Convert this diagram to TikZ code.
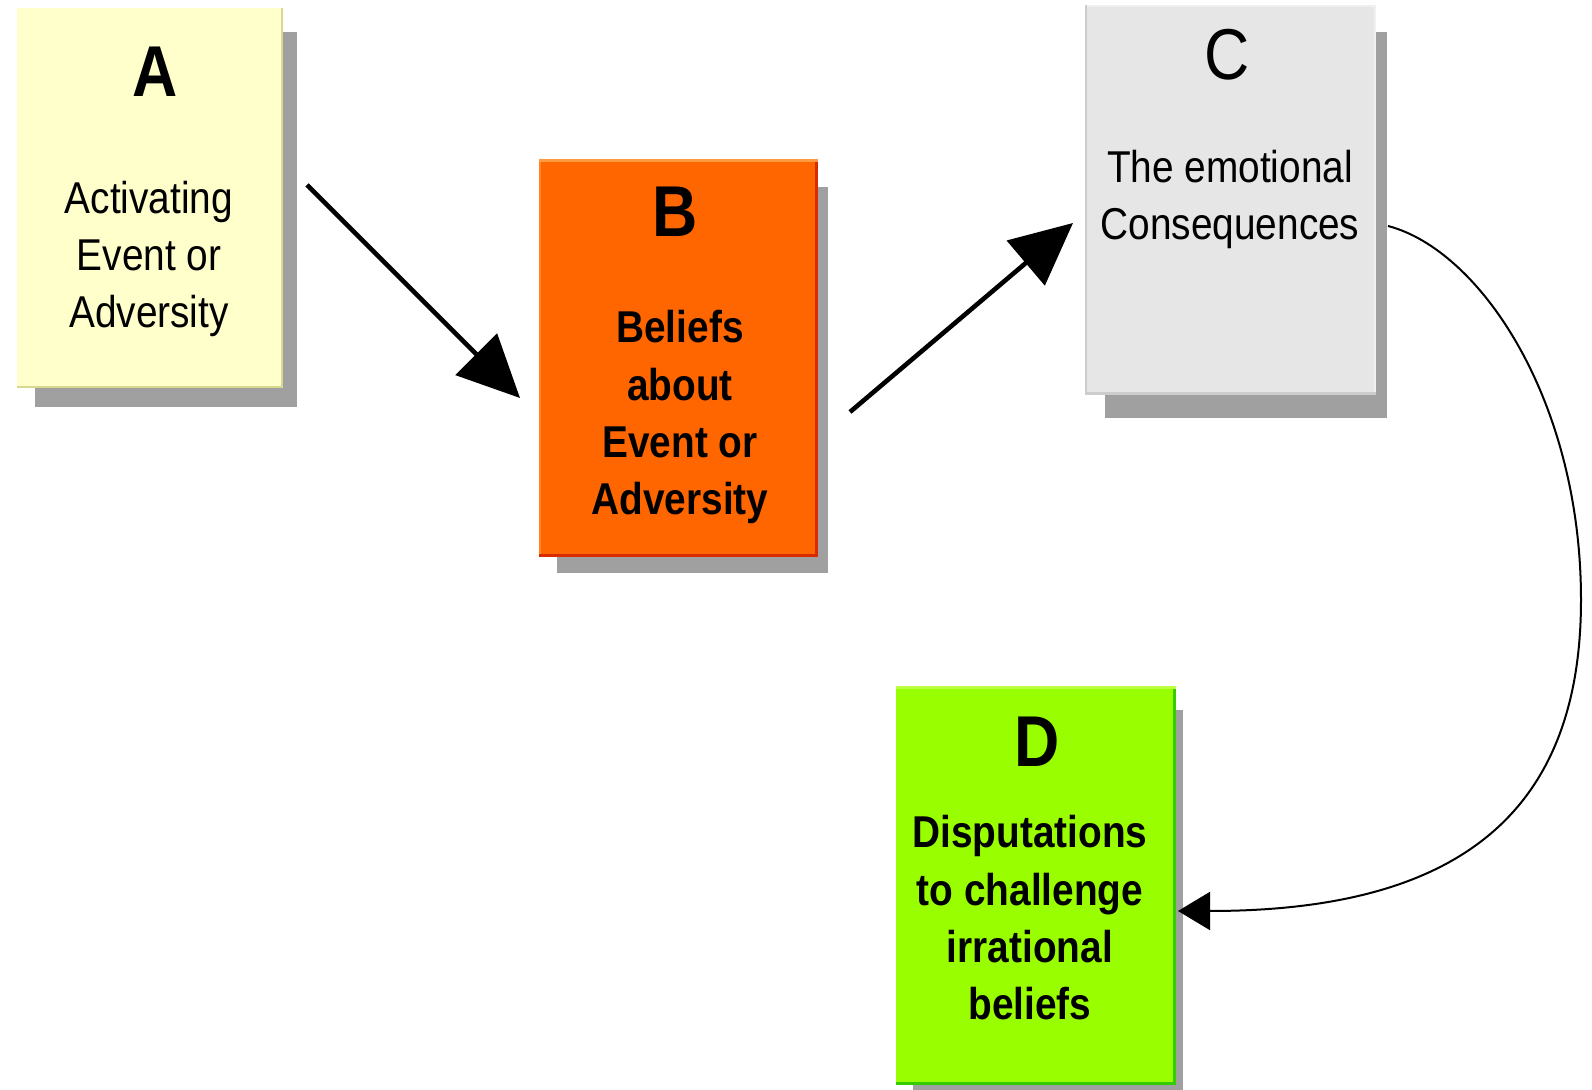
\documentclass[tikz,border=0pt]{standalone}
\usepackage{fontspec}
\setmainfont{Liberation Sans}[FakeStretch=0.87]
\usetikzlibrary{arrows.meta}

\definecolor{paleyellow}{HTML}{FFFFCC}
\definecolor{yellowedge}{HTML}{D8D890}
\definecolor{orangefill}{HTML}{FF6600}
\definecolor{orangelight}{HTML}{FF9A40}
\definecolor{orangeside}{HTML}{FF8426}
\definecolor{orangedark}{HTML}{D92B00}
\definecolor{greyfill}{HTML}{E6E6E6}
\definecolor{greylight}{HTML}{F0F0F0}
\definecolor{greyedge}{HTML}{CDCDCD}
\definecolor{limefill}{HTML}{99FF00}
\definecolor{limelight}{HTML}{BBFF40}
\definecolor{limedark}{HTML}{33CC00}
\definecolor{shadowgrey}{HTML}{A0A0A0}

\begin{document}
\begin{tikzpicture}[x=0.5pt,y=-0.5pt,
  card/.style={rectangle, inner sep=0pt, outer sep=0pt},
  letter/.style={font=\fontsize{36}{36}\selectfont\bfseries, anchor=base, inner sep=0pt},
  plainletter/.style={font=\fontsize{36}{36}\selectfont, anchor=base, inner sep=0pt},
  % multi-line texts are placed by the baseline of their last line
  bodytext/.style={font=\fontsize{22.3}{28.7}\selectfont, align=center, anchor=base, inner sep=0pt},
  boldtext/.style={bodytext, font=\fontsize{22.3}{28.7}\selectfont\bfseries},
  bigarrow/.style={-{Triangle[length=31pt,width=29pt]}, line width=2.3pt},
  looparrow/.style={-{Triangle[length=16pt,width=19pt]}, line width=1pt}]

\fill[white] (0,0) rectangle (1592,1090);
\useasboundingbox (0,0) rectangle (1592,1090);

% ---- cards ----
\node[card, minimum width=133pt, minimum height=190pt] (A) at (150,198) {};
\node[card, minimum width=139.5pt, minimum height=199pt] (B) at (678.5,358) {};
\node[card, minimum width=145.5pt, minimum height=195pt] (C) at (1230.5,200) {};
\node[card, minimum width=140pt, minimum height=199.5pt] (D) at (1036,885.5) {};

% drop shadows behind the cards
\fill[shadowgrey] ([shift={(9pt,-12pt)}]A.north west) rectangle ([shift={(7pt,-9.5pt)}]A.south east);
\fill[shadowgrey] ([shift={(9pt,-14pt)}]B.north west) rectangle ([shift={(5pt,-8pt)}]B.south east);
\fill[shadowgrey] ([shift={(10pt,-13.5pt)}]C.north west) rectangle ([shift={(5.5pt,-11.5pt)}]C.south east);
\fill[shadowgrey] ([shift={(8.5pt,-12pt)}]D.north west) rectangle ([shift={(3.5pt,-5pt)}]D.south east);

% card faces
\fill[paleyellow] (A.north west) rectangle (A.south east);
\fill[orangefill] (B.north west) rectangle (B.south east);
\fill[greyfill] (C.north west) rectangle (C.south east);
\fill[limefill] (D.north west) rectangle (D.south east);

% bevelled card edges
\draw[yellowedge, line width=1.2pt] ([shift={(0,0.6pt)}]A.south west) -- ([shift={(-0.6pt,0.6pt)}]A.south east) -- ([shift={(-0.6pt,0)}]A.north east);

\draw[orangelight, line width=1.5pt] ([shift={(0,-0.75pt)}]B.north west) -- ([shift={(0,-0.75pt)}]B.north east);
\draw[orangeside, line width=1.2pt] ([shift={(0.6pt,-1.5pt)}]B.north west) -- ([shift={(0.6pt,0)}]B.south west);
\draw[orangedark, line width=1.5pt] ([shift={(-0.75pt,-1.5pt)}]B.north east) -- ([shift={(-0.75pt,0)}]B.south east);
\draw[orangedark, line width=1.5pt] ([shift={(0,0.75pt)}]B.south west) -- ([shift={(0,0.75pt)}]B.south east);

\draw[greylight, line width=1.2pt] ([shift={(0,-0.6pt)}]C.north west) -- ([shift={(0,-0.6pt)}]C.north east);
\draw[greyedge, line width=1pt] ([shift={(0.5pt,0)}]C.north west) -- ([shift={(0.5pt,0)}]C.south west);
\draw[greylight, line width=1.2pt] ([shift={(-0.6pt,0)}]C.north east) -- ([shift={(-0.6pt,0)}]C.south east);
\draw[greyedge, line width=1.5pt] ([shift={(0,0.75pt)}]C.south west) -- ([shift={(0,0.75pt)}]C.south east);

\draw[limelight, line width=1.5pt] ([shift={(0,-0.75pt)}]D.north west) -- ([shift={(0,-0.75pt)}]D.north east);
\draw[limedark, line width=1.5pt] ([shift={(-0.75pt,-1.5pt)}]D.north east) -- ([shift={(-0.75pt,0)}]D.south east);
\draw[limedark, line width=1.5pt] ([shift={(0,0.75pt)}]D.south west) -- ([shift={(0,0.75pt)}]D.south east);

% ---- card texts ----
\node[letter] (Aletter) at (155,97) {A};
\node[bodytext] (Atext) at (149,328) {Activating\\Event or\\Adversity};

\node[letter] (Bletter) at (675,237) {B};
\node[boldtext] (Btext) at (680,515) {Beliefs\\about\\Event or\\Adversity};

\node[plainletter] (Cletter) at (1227,80) {C};
\node[bodytext] (Ctext) at (1230,240) {The emotional\\Consequences};

\node[letter] (Dletter) at (1037,767) {D};
\node[boldtext] (Dtext) at (1030,1020) {Disputations\\to challenge\\irrational\\beliefs};

% ---- connectors ----
\coordinate (ABstart) at (307,185);
\coordinate (ABend) at (520,398);
\coordinate (BCstart) at (850,412);
\coordinate (BCend) at (1073,223);
\coordinate (CDstart) at (1388,226);
\coordinate (CDturn) at (1581,600);
\coordinate (CDend) at (1178,911);

\draw[bigarrow] (ABstart) -- (ABend);
\draw[bigarrow] (BCstart) -- (BCend);
\draw[looparrow] (CDstart) .. controls (1480,250) and (1581,400) .. (CDturn)
                 .. controls (1581,820) and (1450,911) .. (CDend);
\end{tikzpicture}
\end{document}
